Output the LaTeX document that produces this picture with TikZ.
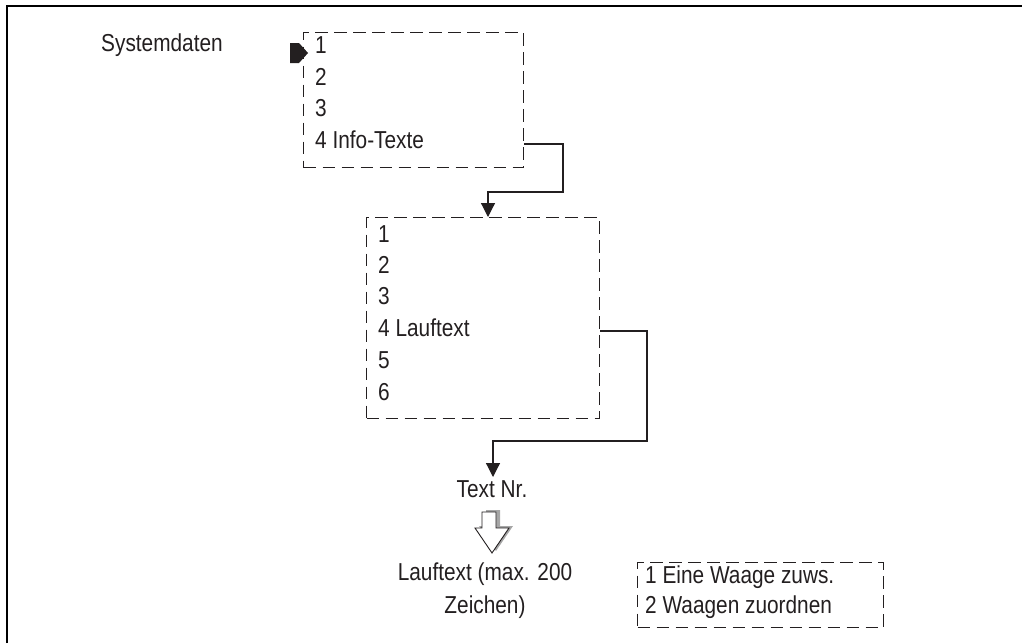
\documentclass[tikz,border=0pt]{standalone}
\usepackage{fontspec}
\setmainfont{Liberation Sans}[FakeStretch=0.85]
\usetikzlibrary{arrows.meta}
\definecolor{ink}{HTML}{231F20}
\begin{document}
\begin{tikzpicture}[x=1pt,y=-1pt,
  txt/.style={anchor=base west,inner sep=0pt,font=\fontsize{24.5}{28}\selectfont,text=ink},
  ctxt/.style={anchor=base,inner sep=0pt,font=\fontsize{24.5}{28}\selectfont,text=ink},
  dbox/.style={draw=ink,line width=1.3pt,dash pattern=on 12.5pt off 6.5pt,inner sep=0pt,anchor=north west},
  conn/.style={draw=ink,line width=1.2pt,-{Triangle[length=14pt,width=14pt]}},
  frame/.style={draw=black,line width=2.2pt}]
\useasboundingbox (0,0) rectangle (1022,643);
% frame
\coordinate (fb) at (7,643);
\coordinate (fc) at (7,6);
\coordinate (fr) at (1022,6);
\draw[frame] (fb) -- (fc) -- (fr);
% title
\node[txt] (sys) at (101,51) {Systemdaten};
% box 1
\node[dbox,minimum width=220pt,minimum height=135pt] (box1) at (303,32) {};
\node[txt] (l11) at (315,53) {1};
\node[txt] (l12) at (315,85) {2};
\node[txt] (l13) at (315,116) {3};
\node[txt] (l14) at (315,148) {4 Info-Texte};
\fill[ink] (290,43) -- (299,43) -- (308,53) -- (299,63) -- (290,63) -- cycle;
% box 2
\node[dbox,minimum width=233pt,minimum height=201pt] (box2) at (366,217) {};
\node[txt] (l21) at (378,242) {1};
\node[txt] (l22) at (378,273) {2};
\node[txt] (l23) at (378,304) {3};
\node[txt] (l24) at (378,336) {4 Lauftext};
\node[txt] (l25) at (378,368) {5};
\node[txt] (l26) at (378,400) {6};
% connectors
\coordinate (k1) at (563,192);
\coordinate (e1) at (488,217);
\draw[conn] (box1.east |- 0,144) -| (k1) -| (e1);
\node[ctxt] (tn) at (492,497) {Text Nr.};
\coordinate (k2) at (647,441);
\coordinate (e2) at (493,477);
\draw[conn] (box2.east |- 0,331) -| (k2) -| (e2);
% hollow arrow
\fill[gray!70] (486,510) -- (500,510) -- (500,526) -- (513,526) -- (496,551) -- (479,526) -- (486,526) -- cycle;
\draw[ink,fill=white,line width=0.9pt,line join=miter] (482,512) -- (496,512) -- (496,528) -- (509,528) -- (492,553) -- (475,528) -- (482,528) -- cycle;
\node[ctxt] (lt1) at (485,580) {Lauftext (max. 200};
\node[ctxt] (lt2) at (485,613) {Zeichen)};
% box 3
\node[dbox,minimum width=246pt,minimum height=65pt] (box3) at (637,562) {};
\node[txt] (l31) at (645,583) {1 Eine Waage zuws.};
\node[txt] (l32) at (645,613) {2 Waagen zuordnen};
\end{tikzpicture}
\end{document}
